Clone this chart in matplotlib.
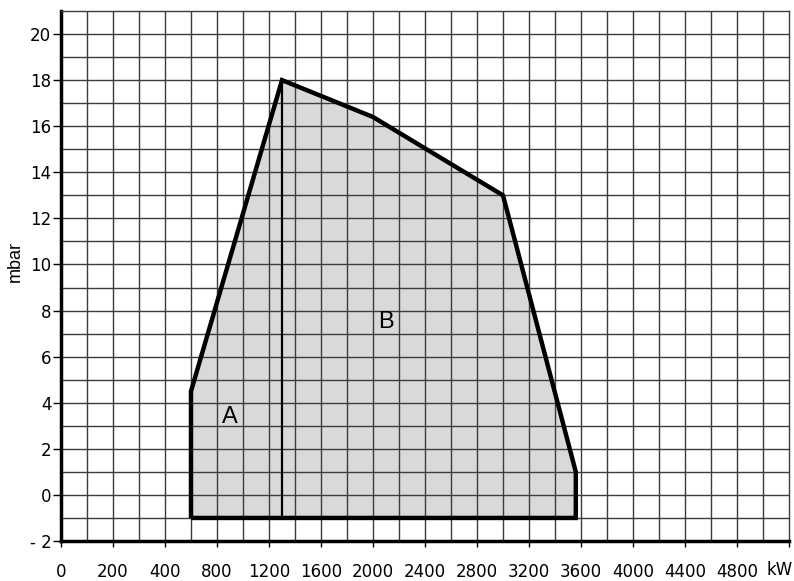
import numpy as np
import matplotlib
matplotlib.use("Agg")
import matplotlib.pyplot as plt

# ---- data ----
tick_kw = [0, 200, 400, 800, 1200, 1600, 2000, 2400, 2800, 3200, 3600, 4000, 4400, 4800, 5200]
tick_labels = ["0", "200", "400", "800", "1200", "1600", "2000", "2400", "2800",
               "3200", "3600", "4000", "4400", "4800", ""]
unit_label = "kW"
y_ticks = [-2, 0, 2, 4, 6, 8, 10, 12, 14, 16, 18, 20]
y_labels = ["- 2", "0", "2", "4", "6", "8", "10", "12", "14", "16", "18", "20"]

outline_kw = [600, 600, 1300, 2000, 3000, 3560, 3560, 600]
outline_mbar = [-1, 4.5, 18, 16.4, 13, 1, -1, -1]
divider_kw = [1300, 1300]
divider_mbar = [18, -1]
region_labels = ["A", "B"]
region_kw = [900, 2100]
region_mbar = [3.4, 7.5]

plt.rcParams['font.family'] = ['DejaVu Sans']

pos = np.arange(len(tick_kw), dtype=float)
def fwd(x):
    return np.interp(x, tick_kw, pos)
def inv(p):
    return np.interp(p, pos, tick_kw)

fig = plt.figure(figsize=(7.94, 5.81), dpi=100)
ax = fig.add_axes([61/794, 40/581, (789-61)/794, (541-11)/581])
ax.set_xscale('function', functions=(fwd, inv))
ax.set_xlim(0, 5200)
ax.set_ylim(-2, 21)

# grid
grid_c = '#3c3c3c'
for p in np.arange(0.5, 14.0, 0.5):
    ax.axvline(inv(p), color=grid_c, lw=1.0, zorder=2)
for yv in range(-1, 21):
    ax.axhline(yv, color=grid_c, lw=1.0, zorder=2)

# region
ax.fill(outline_kw, outline_mbar, facecolor='#d9d9d9', edgecolor='none', zorder=1)
ax.plot(divider_kw, divider_mbar, color='black', lw=1.6, zorder=3)
ax.plot(outline_kw, outline_mbar, color='black', lw=3.2, zorder=4,
        solid_joinstyle='miter', solid_capstyle='butt')

for t, xk, ym in zip(region_labels, region_kw, region_mbar):
    ax.text(xk, ym, t, fontsize=17, ha='center', va='center', zorder=5,
            family='Liberation Sans')

ax.set_xticks(tick_kw)
ax.set_xticklabels(tick_labels, fontsize=12)
ax.set_yticks(y_ticks)
ax.set_yticklabels(y_labels, fontsize=12)
ax.minorticks_off()
ax.tick_params(axis='x', length=4, width=1, pad=12, direction='out')
ax.tick_params(axis='y', length=6, width=1, pad=1, direction='out')

ax.spines['left'].set_linewidth(2.5)
ax.spines['bottom'].set_linewidth(2.5)
for s in ['top', 'right']:
    ax.spines[s].set_linewidth(1.0)
    ax.spines[s].set_color(grid_c)

fig.text(793/794, 1 - 570/581, unit_label, ha='right', va='center', fontsize=12)
fig.text(15/794, 1 - 262/581, "mbar", rotation=90, ha='center', va='center',
         fontsize=13, family='Liberation Sans')

fig.savefig("out.png", dpi=100)
